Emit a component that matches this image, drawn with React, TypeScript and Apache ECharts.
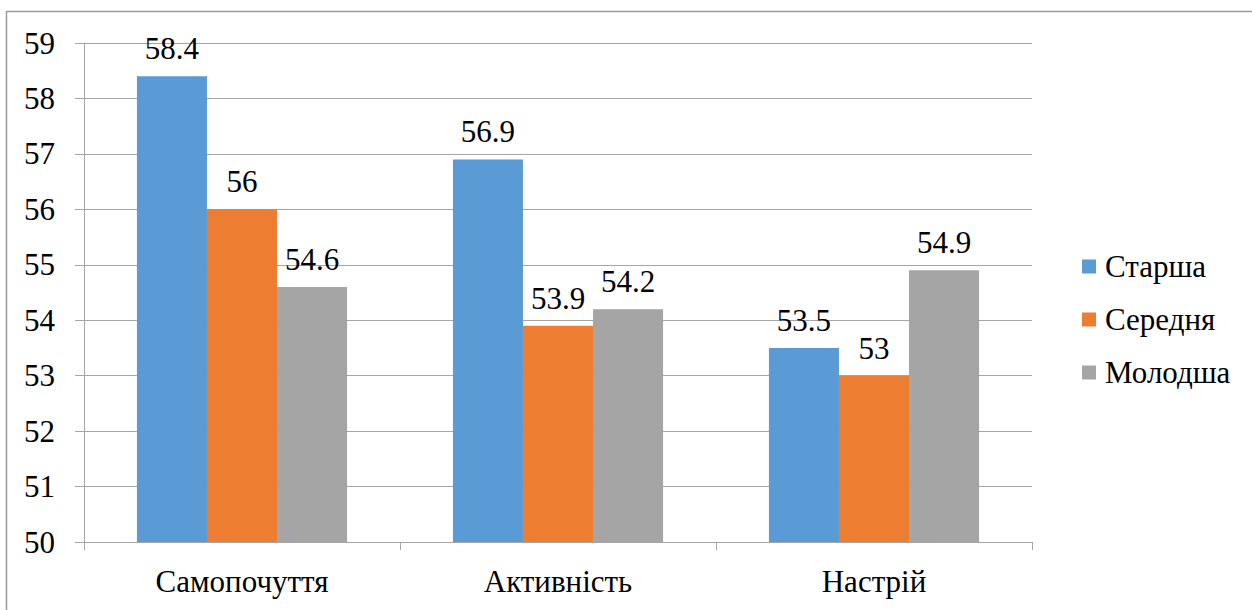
import React, { useEffect, useRef } from "react";
import * as echarts from "echarts";

const categories = ["Самопочуття", "Активність", "Настрій"];
const seriesNames = ["Старша", "Середня", "Молодша"];
const starsha = [58.4, 56.9, 53.5];
const serednia = [56, 53.9, 53];
const molodsha = [54.6, 54.2, 54.9];
const colors = ["#5B9BD5", "#ED7D31", "#A5A5A5"];

const FONT = "Liberation Serif";
const FS = 31;

export default function App() {
  const ref = useRef<HTMLDivElement>(null);
  useEffect(() => {
    if (!ref.current) return;
    const chart = echarts.init(ref.current, null, { renderer: "svg" });
    const values = [starsha, serednia, molodsha];
    chart.setOption({
      animation: false,
      textStyle: { fontFamily: FONT, fontSize: FS, color: "#000" },
      graphic: [
        {
          type: "rect",
          shape: { x: 6.5, y: 11.5, width: 1300, height: 700 },
          style: { fill: "none", stroke: "#9a9a9a", lineWidth: 1.5 },
          silent: true,
          z: -1,
        },
      ],
      grid: { left: 84, top: 43, width: 948, height: 499, containLabel: false },
      legend: {
        orient: "vertical",
        left: 1077,
        top: 246,
        itemWidth: 14,
        itemHeight: 14,
        itemGap: 22,
        icon: "rect",
        textStyle: { fontFamily: FONT, fontSize: FS, color: "#000", padding: [0, 0, 0, 4] },
        data: seriesNames,
      },
      xAxis: {
        type: "category",
        data: categories,
        axisLine: { lineStyle: { color: "#a6a6a6", width: 1 } },
        axisTick: { show: true, length: 8, lineStyle: { color: "#a6a6a6" } },
        axisLabel: {
          color: "#000",
          margin: 24,
          rich: {},
          textStyle: undefined,
          fontFamily: FONT,
          fontSize: FS,
        },
      },
      yAxis: {
        type: "value",
        min: 50,
        max: 59,
        interval: 1,
        axisLine: { show: true, lineStyle: { color: "#a6a6a6" } },
        axisTick: { show: true, length: 9, lineStyle: { color: "#a6a6a6" } },
        splitLine: { lineStyle: { color: "#a6a6a6" } },
        axisLabel: { fontFamily: FONT, fontSize: FS, color: "#000", margin: 29 },
      },
      series: seriesNames.map((name, i) => ({
        name,
        type: "bar",
        data: values[i],
        barGap: "0%",
        barCategoryGap: "33.5%",
        itemStyle: { color: colors[i] },
        label: {
          show: true,
          position: "top",
          distance: 12,
          fontFamily: FONT,
          fontSize: FS,
          color: "#000",
        },
      })),
    });
    return () => chart.dispose();
  }, []);
  return (
    <div
      ref={ref}
      style={{ position: "fixed", left: 0, top: 0, width: 1252, height: 610, background: "#fff" }}
    />
  );
}
